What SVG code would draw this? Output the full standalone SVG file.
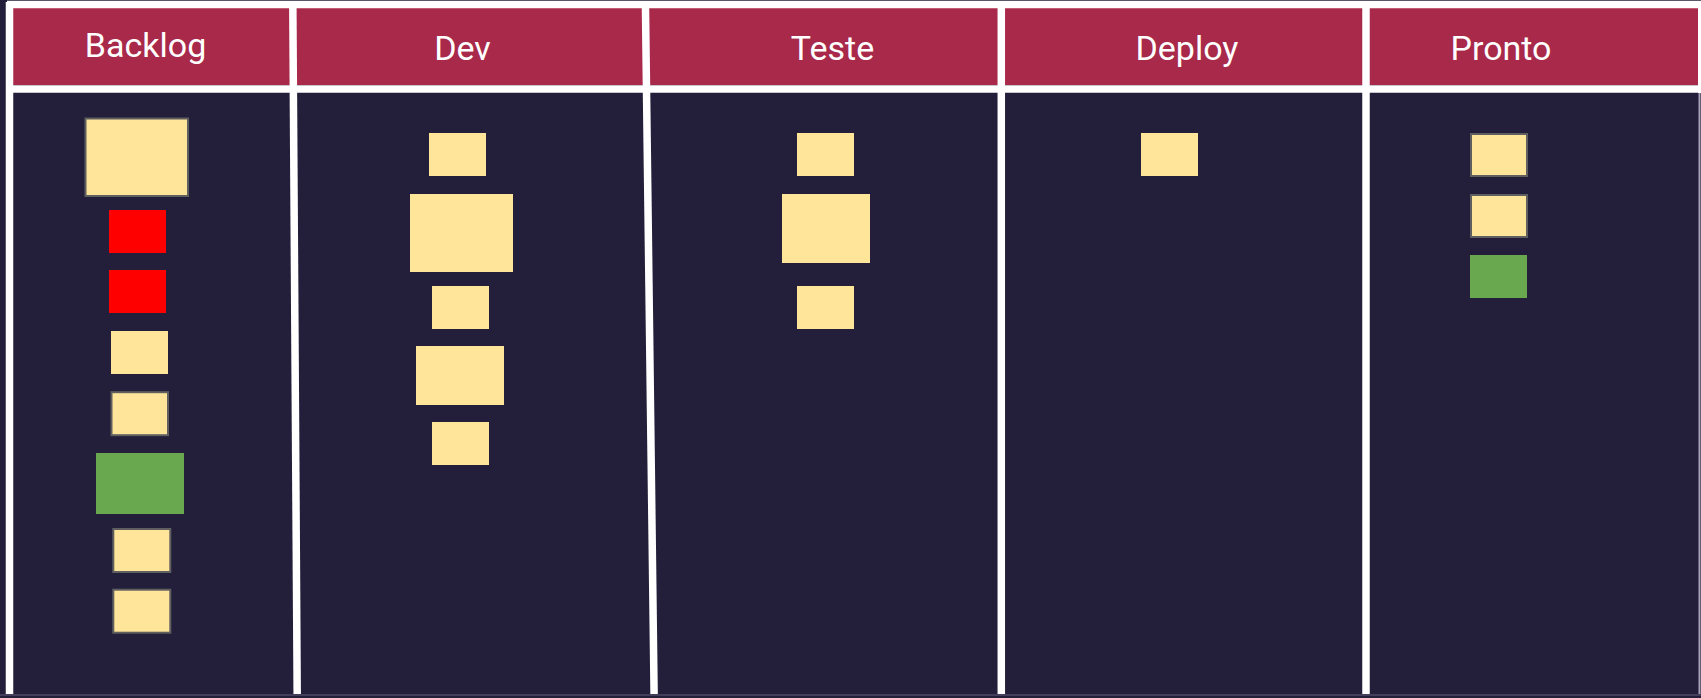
<svg xmlns="http://www.w3.org/2000/svg" width="1701" height="698" viewBox="0 0 1701 698">
  <style>
    .board { fill: #231F3A; }
    .head { fill: #A8294A; }
    .rule { stroke: #FFFFFF; stroke-width: 7.5; fill: none; }
    .title { font-family: Roboto, "Liberation Sans", sans-serif; font-size: 34px; fill: #FFFFFF; text-anchor: middle; }
    .card { fill: #FFE599; }
    .card.edged { stroke: #5F5F5F; stroke-width: 2; }
    .blocked { fill: #FF0000; }
    .done { fill: #6AA84F; }
  </style>

  <!-- board background and header band -->
  <rect class="board" x="0" y="0" width="1701" height="698"/>
  <rect class="head" x="12" y="7" width="1687" height="78"/>

  <!-- frame and column dividers -->
  <g id="grid">
    <line class="rule" x1="7" y1="4.5" x2="1701" y2="4.5"/>
    <line class="rule" x1="9.5" y1="2" x2="9.5" y2="694" stroke-width="5"/>
    <line class="rule" x1="7" y1="89" x2="1701" y2="89"/>
    <line class="rule" x1="292.8" y1="2" x2="297.2" y2="694"/>
    <line class="rule" x1="645.4" y1="2" x2="654.1" y2="694"/>
    <line class="rule" x1="1001.3" y1="2" x2="1001.3" y2="694"/>
    <line class="rule" x1="1366" y1="2" x2="1366" y2="694"/>
    <line x1="1699.5" y1="2" x2="1699.5" y2="93" stroke="#FFFFFF" stroke-width="3"/>
    <line x1="1699.5" y1="93" x2="1699.5" y2="694" stroke="#A8A2B8" stroke-width="2"/>
    <line x1="0" y1="695" x2="1701" y2="695" stroke="#4F4A66" stroke-width="1.5"/>
  </g>

  <!-- column titles -->
  <g id="col-backlog"><text class="title" x="145.5" y="57">Backlog</text></g>
  <g id="col-dev"><text class="title" x="462.5" y="59.5">Dev</text></g>
  <g id="col-teste"><text class="title" x="832.5" y="60">Teste</text></g>
  <g id="col-deploy"><text class="title" x="1187" y="60">Deploy</text></g>
  <g id="col-pronto"><text class="title" x="1501" y="59.5">Pronto</text></g>

  <!-- Backlog cards -->
  <g id="backlog-cards">
    <rect class="card edged" x="85.5" y="118.5" width="102.5" height="77.5"/>
    <rect class="blocked" x="109" y="210" width="57" height="43"/>
    <rect class="blocked" x="109" y="270" width="57" height="43"/>
    <rect class="card" x="111" y="331" width="57" height="43"/>
    <rect class="card edged" x="111.5" y="392.2" width="56.5" height="43"/>
    <rect class="done" x="96" y="453" width="88" height="61"/>
    <rect class="card edged" x="113.3" y="529" width="57" height="43"/>
    <rect class="card edged" x="113.3" y="589.7" width="57" height="43"/>
  </g>

  <!-- Dev cards -->
  <g id="dev-cards">
    <rect class="card" x="429" y="133" width="57" height="43"/>
    <rect class="card" x="410" y="194" width="103" height="78"/>
    <rect class="card" x="432" y="286" width="57" height="43"/>
    <rect class="card" x="416" y="346" width="88" height="59"/>
    <rect class="card" x="432" y="422" width="57" height="43"/>
  </g>

  <!-- Teste cards -->
  <g id="teste-cards">
    <rect class="card" x="797" y="133" width="57" height="43"/>
    <rect class="card" x="782" y="194" width="88" height="69"/>
    <rect class="card" x="797" y="286" width="57" height="43"/>
  </g>

  <!-- Deploy cards -->
  <g id="deploy-cards">
    <rect class="card" x="1141" y="133" width="57" height="43"/>
  </g>

  <!-- Pronto cards -->
  <g id="pronto-cards">
    <rect class="card edged" x="1471" y="134" width="56" height="42"/>
    <rect class="card edged" x="1471" y="195" width="56" height="42"/>
    <rect class="done" x="1470" y="255" width="57" height="43"/>
  </g>
</svg>
